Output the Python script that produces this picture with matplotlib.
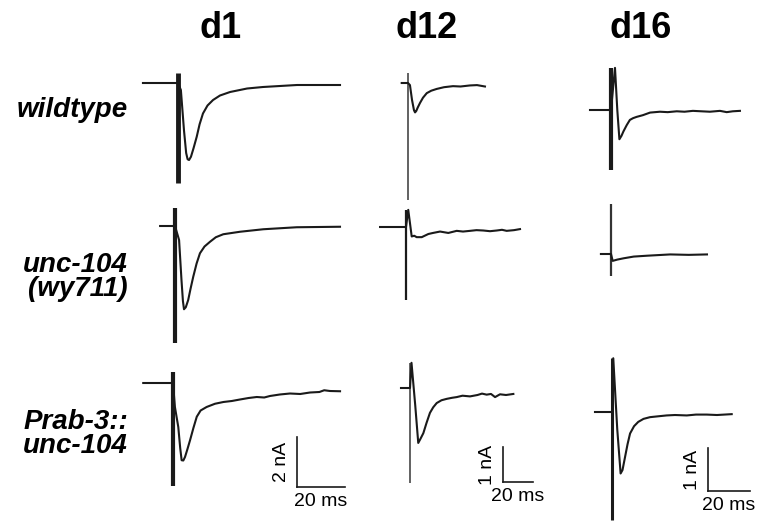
import matplotlib
matplotlib.use("Agg")
import matplotlib.pyplot as plt

# --------------------------------------
# DATA: evoked currents, time in ms (0 = stimulus), current in nA (0 = baseline)
# --------------------------------------
columns = ["d1", "d12", "d16"]
rows = ["wildtype", "unc-104\n(wy711)", "Prab-3::\nunc-104"]

# wildtype
wt_d1_t = [-14.6, -1.2, 0.0, 1.2, 2.5, 3.4, 4.0, 4.6, 5.4, 6.5, 7.8, 9.0, 10.4, 12.3, 14.6, 17.5, 21.7, 28.8, 35.4, 49.6, 67.5]
wt_d1_i = [0.0, 0.0, 0.0, -0.28, -1.9, -2.8, -3.05, -3.08, -2.95, -2.6, -2.15, -1.65, -1.22, -0.9, -0.68, -0.5, -0.36, -0.22, -0.16, -0.08, -0.08]
wt_d1_art = (0.4, -4.0)

wt_d12_t = [-4.2, 0.0, 1.3, 2.7, 4.0, 4.7, 5.5, 6.5, 8.0, 10.0, 12.5, 15.5, 19.1, 24.0, 30.0, 35.0, 41.3, 46.0, 51.3]
wt_d12_i = [0.0, 0.0, -0.06, -0.49, -0.78, -0.84, -0.8, -0.7, -0.57, -0.42, -0.29, -0.22, -0.17, -0.12, -0.09, -0.1, -0.07, -0.06, -0.1]
wt_d12_art = (0.29, -3.34)

wt_d16_t = [-10.0, 0.0, 1.9, 3.0, 4.0, 5.0, 5.9, 7.5, 9.0, 10.5, 12.2, 15.2, 18.6, 23.3, 27.0, 31.3, 35.0, 39.0, 43.0, 47.1, 51.9, 55.1, 58.0, 61.4]
wt_d16_i = [0.0, 0.0, 0.98, 0.0, -0.68, -0.6, -0.5, -0.35, -0.23, -0.19, -0.16, -0.12, -0.06, -0.04, -0.05, -0.03, -0.04, -0.02, -0.03, -0.04, -0.02, -0.05, -0.03, -0.02]
wt_d16_art = (0.98, -1.4)

# unc-104(wy711)
mut_d1_t = [-6.2, 0.0, 1.7, 2.7, 3.3, 3.75, 4.5, 5.5, 6.5, 7.6, 9.0, 10.4, 12.3, 14.6, 17.0, 20.1, 27.1, 36.8, 50.7, 68.75]
mut_d1_i = [0.0, 0.0, -0.56, -2.16, -3.0, -3.33, -3.25, -2.96, -2.5, -2.03, -1.5, -1.09, -0.82, -0.63, -0.45, -0.33, -0.23, -0.13, -0.05, -0.03]
mut_d1_art = (0.72, -4.68)

mut_d12_t = [-17.3, 0.0, 1.5, 3.8, 5.5, 7.1, 10.5, 14.9, 18.0, 22.7, 28.2, 33.8, 38.0, 42.7, 47.0, 51.5, 56.0, 60.5, 64.0, 67.1, 72.0, 76.0]
mut_d12_i = [0.0, 0.0, 0.49, -0.27, -0.25, -0.29, -0.29, -0.2, -0.17, -0.13, -0.17, -0.11, -0.13, -0.11, -0.09, -0.1, -0.12, -0.1, -0.08, -0.11, -0.09, -0.06]
mut_d12_art = (0.49, -2.08)

mut_d16_t = [-4.8, 0.0, 0.8, 3.0, 6.0, 10.8, 17.1, 28.2, 37.0, 45.7]
mut_d16_i = [0.0, 0.0, -0.16, -0.13, -0.1, -0.06, -0.04, -0.01, -0.02, -0.01]
mut_d16_art = (1.16, -0.51)

# Prab-3::unc-104 rescue
res_d1_t = [-12.4, -1.2, 0.0, 0.8, 2.2, 3.0, 3.6, 4.3, 5.0, 6.0, 7.1, 8.5, 9.9, 11.5, 14.0, 17.5, 21.0, 24.5, 27.9, 31.5, 34.9, 38.0, 40.4, 44.5, 48.75, 53.0, 57.1, 61.0, 63.0, 65.4, 69.6]
res_d1_i = [0.0, 0.0, 0.0, -0.96, -1.76, -2.6, -3.09, -3.1, -2.96, -2.65, -2.29, -1.8, -1.35, -1.1, -0.96, -0.83, -0.76, -0.72, -0.66, -0.6, -0.56, -0.58, -0.52, -0.46, -0.42, -0.44, -0.38, -0.36, -0.29, -0.32, -0.33]
res_d1_art = (0.44, -4.13)

res_d12_t = [-6.0, 0.0, 1.0, 3.5, 5.5, 7.0, 8.9, 11.0, 13.3, 15.5, 17.8, 21.0, 24.5, 28.0, 31.1, 35.0, 40.0, 45.0, 48.0, 51.1, 54.0, 56.7, 60.0, 64.0, 68.9]
res_d12_i = [0.0, 0.0, 0.72, -0.5, -1.57, -1.45, -1.29, -1.0, -0.71, -0.55, -0.43, -0.35, -0.31, -0.28, -0.26, -0.22, -0.24, -0.2, -0.16, -0.19, -0.17, -0.26, -0.18, -0.2, -0.17]
res_d12_art = (0.72, -2.71)

res_d16_t = [-8.1, 0.0, 0.6, 2.5, 4.1, 5.0, 6.2, 7.4, 8.6, 10.5, 12.5, 15.0, 18.1, 22.0, 26.0, 30.0, 35.6, 40.0, 45.1, 50.0, 57.0]
res_d16_i = [0.0, 0.0, 1.25, -0.4, -1.43, -1.35, -1.05, -0.75, -0.5, -0.33, -0.23, -0.16, -0.12, -0.1, -0.08, -0.07, -0.08, -0.06, -0.06, -0.07, -0.05]
res_d16_art = (1.25, -2.52)

# scale bars per column: (ms, nA)
bar_ms = [20, 20, 20]
bar_na = [2, 1, 1]

# --------------------------------------
# LAYOUT (pixels)
# --------------------------------------
W, H = 760, 523
px_per_ms = [2.4, 1.5, 2.1]
px_per_na = [25, 35, 43]
# stimulus position (x, baseline y) of each panel
stim_px = [
    [(178, 83), (408, 83), (611, 110)],
    [(175, 226), (406, 227), (611, 254)],
    [(173, 383), (410, 388), (612, 412)],
]
bar_origin_px = [(297, 487), (503, 482), (708, 491)]
title_x = [221, 427, 641]
row_y = [110, 277, 434]

traces = [
    [(wt_d1_t, wt_d1_i, wt_d1_art), (wt_d12_t, wt_d12_i, wt_d12_art), (wt_d16_t, wt_d16_i, wt_d16_art)],
    [(mut_d1_t, mut_d1_i, mut_d1_art), (mut_d12_t, mut_d12_i, mut_d12_art), (mut_d16_t, mut_d16_i, mut_d16_art)],
    [(res_d1_t, res_d1_i, res_d1_art), (res_d12_t, res_d12_i, res_d12_art), (res_d16_t, res_d16_i, res_d16_art)],
]
art_color = [["#1a1a1a", "#555555", "#1a1a1a"],
             ["#1a1a1a", "#1a1a1a", "#333333"],
             ["#1a1a1a", "#555555", "#1a1a1a"]]
art_width = [[3.5, 1.3, 3.0], [3.0, 1.6, 1.6], [3.0, 1.3, 2.2]]

plt.rcParams["font.family"] = ["Liberation Sans", "DejaVu Sans"]
fig = plt.figure(figsize=(W / 100, H / 100), dpi=100)


def panel_axes(r, c):
    """Transparent axes over the whole figure, with t=0/i=0 at the panel's stimulus point."""
    sx, sy = stim_px[r][c]
    ax = fig.add_axes([0, 0, 1, 1])
    ax.set_xlim(-sx / px_per_ms[c], (W - sx) / px_per_ms[c])
    ax.set_ylim(-(H - sy) / px_per_na[c], sy / px_per_na[c])
    ax.axis("off")
    ax.patch.set_alpha(0)
    return ax


for r in range(3):
    for c in range(3):
        t, i, (a_top, a_bot) = traces[r][c]
        ax = panel_axes(r, c)
        ax.plot([0, 0], [a_top, a_bot], color=art_color[r][c], lw=art_width[r][c],
                solid_capstyle="butt")
        ax.plot(t, i, color="#1a1a1a", lw=1.5, solid_joinstyle="round")

# scale bars under the bottom row
for c in range(3):
    ax = panel_axes(2, c)
    sx, sy = stim_px[2][c]
    bx, by = bar_origin_px[c]
    t0 = (bx - sx) / px_per_ms[c]
    i0 = -(by - sy) / px_per_na[c]
    ax.plot([t0, t0 + bar_ms[c]], [i0, i0], color="#1a1a1a", lw=1.2)
    ax.plot([t0, t0], [i0, i0 + bar_na[c]], color="#1a1a1a", lw=1.2)
    ax.text(t0 + bar_ms[c] / 2, i0 - 0.25 * 25 / px_per_na[c], f"{bar_ms[c]} ms",
            ha="center", va="top", fontsize=14)
    ax.text(t0 - 3.5 * 2.1 / px_per_ms[c], i0 + bar_na[c] / 2, f"{bar_na[c]} nA",
            ha="right", va="center", rotation=90, fontsize=14)

# column titles and row labels
for c, name in enumerate(columns):
    fig.text(title_x[c] / W, 1 - 29 / H, name, ha="center", va="center", fontsize=26,
             fontweight="bold")
for r, name in enumerate(rows):
    fig.text(128 / W, 1 - row_y[r] / H, name, ha="right", va="center", fontsize=20,
             fontweight="bold", fontstyle="italic", linespacing=0.92)

fig.savefig("out.png", dpi=100)
